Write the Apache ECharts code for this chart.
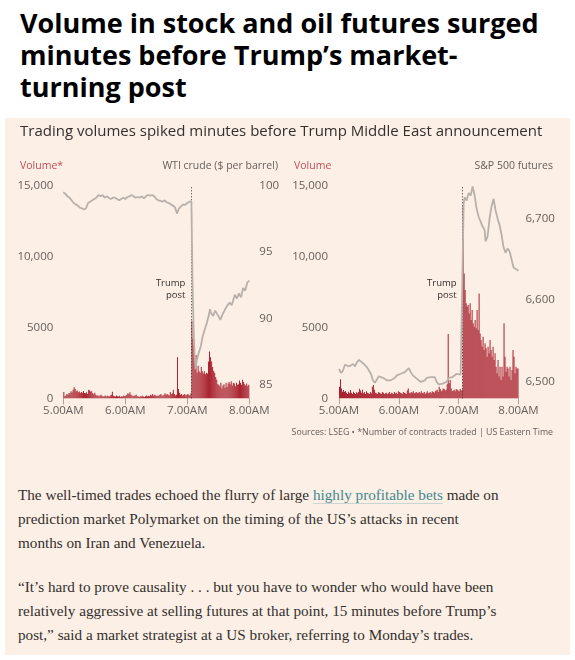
<!DOCTYPE html>
<html>
<head>
<meta charset="utf-8">
<script src="https://cdn.jsdelivr.net/npm/echarts@6/dist/echarts.min.js"></script>
<style>
  body { margin: 0; width: 575px; height: 660px; background: #fff; position: relative; overflow: hidden; }
  #headline { position: absolute; left: 20px; top: 7px; width: 545px; font-family: "Open Sans", sans-serif; font-weight: 700;
    font-size: 27px; line-height: 32px; color: #000; letter-spacing: 0; }
  #panel { position: absolute; left: 5px; top: 118px; width: 565px; height: 537px; background: #fcefe5; }
  #chart { position: absolute; left: 0; top: 118px; width: 575px; height: 340px; }
  #story { position: absolute; left: 18px; top: 483px; width: 484px; font-family: "Liberation Serif", serif;
    font-size: 15.2px; line-height: 24px; color: #33302e; }
  #story p { margin: 0 0 20px 0; }
  #story a { color: #3f8a90; text-decoration: underline; text-decoration-color: #c9d6d1; text-underline-offset: 3px; }
</style>
</head>
<body>
<div id="headline">Volume in stock and oil futures surged minutes before Trump’s market-<br>turning post</div>
<div id="panel"></div>
<div id="chart"></div>
<div id="story">
  <p>The well-timed trades echoed the flurry of large <a>highly profitable bets</a> made on prediction market Polymarket on the timing of the US’s attacks in recent months on Iran and Venezuela.</p>
  <p>“It’s hard to prove causality . . . but you have to wonder who would have been relatively aggressive at selling futures at that point, 15 minutes before Trump’s post,” said a market strategist at a US broker, referring to Monday’s trades.</p>
</div>
<script>
// minutes after 5.00AM, one bar per minute
var timeLabels = ['5.00AM', '6.00AM', '7.00AM', '8.00AM'];
var volTicks = [0, 5000, 10000, 15000];
var volTickLabels = ['0', '5000', '10,000', '15,000'];
var wtiTicks = [85, 90, 95, 100];
var spTicks = [6500, 6600, 6700];
var postMinute = 124;

// WTI crude futures, contracts per minute
var oilVolume = [
  450, 150, 200, 300, 250, 380, 350, 500, 420, 600,
  780, 650, 500, 550, 420, 480, 380, 450, 400, 520,
  380, 350, 420, 300, 600, 550, 480, 500, 350, 280,
  400, 250, 180, 220, 150, 200, 250, 180, 120, 150,
  200, 130, 180, 150, 120, 200, 250, 470, 180, 150,
  120, 200, 150, 130, 180, 100, 150, 120, 200, 150,
  180, 250, 350, 300, 420, 250, 200, 150, 180, 200,
  250, 150, 120, 100, 150, 130, 180, 120, 100, 150,
  200, 120, 180, 150, 250, 200, 300, 180, 250, 200,
  150, 200, 180, 250, 300, 200, 180, 250, 350, 250,
  300, 250, 200, 450, 300, 350, 600, 300, 200, 250,
  2900, 650, 400, 250, 300, 200, 250, 300, 200, 250,
  300, 250, 200, 350,
  5450, 4200, 3700, 2700, 3050, 1800,
  2300, 1900, 1800, 2200, 1900, 1750, 1900, 1700, 1800, 1750,
  2600, 3300, 2900, 2600, 2200, 1950, 1800, 1500, 1300, 1000,
  950, 850, 1100, 700, 900, 1000, 750, 1100, 800, 1050,
  1150, 1000, 1200, 900, 1100, 1050, 850, 1100, 950, 1000,
  1250, 1100, 950, 1300, 1150, 1000, 900, 1050, 850, 950
];

// S&P 500 futures, contracts per minute
var spVolume = [
  820, 1340, 700, 470, 590, 470, 520, 400, 300, 470,
  350, 590, 400, 300, 470, 380, 300, 420, 350, 450,
  680, 550, 400, 600, 350, 450, 300, 500, 400, 350,
  300, 450, 350, 820, 940, 600, 400, 350, 300, 450,
  400, 350, 300, 450, 400, 300, 350, 400, 300, 350,
  450, 300, 400, 350, 300, 450, 350, 400, 300, 500,
  450, 400, 350, 300, 450, 400, 350, 300, 550, 700,
  400, 350, 450, 400, 500, 350, 400, 450, 350, 400,
  450, 350, 500, 400, 350, 450, 300, 400, 500, 350,
  400, 450, 350, 500, 450, 400, 500, 550, 600, 450,
  820, 650, 500, 550, 700, 650, 550, 600, 1000, 4540,
  1060, 1290, 700, 500, 550, 600, 500, 650, 600, 550,
  500, 650, 550, 600,
  13630, 8800, 7640, 6700, 6460, 6580, 5990, 6700, 5520, 6230,
  5290, 5050, 5520, 4940, 6230, 4820, 7400, 4580, 4110, 3640,
  4350, 3410, 3880, 3530, 2940, 3640, 3170, 4110, 3410, 2940,
  3640, 2700, 3170, 2230, 1760, 2700, 1530, 2230, 1290, 2230,
  1530, 5290, 2940, 1880, 2230, 2110, 1530, 2230, 1290, 2000,
  3410, 2940, 1760, 2230, 2110, 2110
];

// WTI crude ($ per barrel)
var wtiTimes = [0, 2, 4, 6, 8, 10, 12, 14, 16, 18, 20, 22, 24, 26, 28, 30, 32, 34, 36, 38,
  40, 42, 44, 46, 48, 50, 52, 54, 56, 58, 60, 62, 64, 66, 68, 70, 72, 74, 76, 78,
  80, 82, 84, 86, 88, 90, 92, 94, 96, 98, 100, 102, 104, 106, 108, 110, 112, 114, 116, 118,
  120, 122, 124, 125, 126, 127, 128, 129, 131, 133, 135, 137, 139, 141, 142, 143, 145, 147, 148, 150,
  152, 154, 156, 158, 161, 163, 166, 168, 170, 172, 174, 176, 178, 180];
var wtiPrices = [99.5, 99.4, 99.2, 99.1, 98.9, 98.7, 98.6, 98.5, 98.35, 98.3, 98.2, 98.3, 98.7, 98.8, 98.9, 99.0, 99.1, 99.3, 99.2, 99.3,
  99.1, 99.2, 99.1, 99.0, 99.1, 99.1, 99.0, 98.9, 99.0, 99.1, 99.0, 99.15, 99.2, 99.3, 99.2, 99.1, 99.15, 99.1, 99.2, 99.05,
  99.2, 99.3, 99.25, 99.3, 99.2, 99.0, 98.9, 98.85, 98.8, 98.9, 98.75, 98.7, 98.6, 98.5, 98.4, 97.9, 98.3, 98.45, 98.6, 98.55,
  98.7, 98.8, 98.8, 92.9, 89.5, 87.3, 86.2, 86.8, 87.4, 87.9, 88.7, 89.2, 89.7, 90.3, 90.7, 90.4, 90.2, 90.6, 90.5, 90.2,
  89.9, 90.3, 90.6, 90.9, 91.2, 91.0, 91.8, 91.5, 91.9, 91.6, 92.3, 92.1, 92.7, 92.85];

// S&P 500 futures
var spTimes = [0, 2, 4, 6, 8, 10, 12, 14, 16, 18, 20, 22, 24, 26, 28, 30, 32, 34, 36, 38,
  40, 42, 44, 46, 48, 50, 52, 54, 56, 58, 60, 62, 64, 66, 68, 70, 72, 74, 76, 78,
  80, 82, 84, 86, 88, 90, 92, 94, 96, 98, 100, 102, 104, 106, 108, 110, 112, 114, 116, 118,
  120, 122, 124, 125, 126, 128, 130, 132, 134, 136, 138, 140, 142, 144, 146, 147, 149, 151, 153, 155,
  157, 159, 161, 163, 165, 167, 169, 171, 173, 175, 177, 179, 180];
var spPrices = [6516, 6511, 6514, 6521, 6523, 6519, 6520, 6522, 6519, 6524, 6527, 6528, 6523, 6521, 6518, 6514, 6510, 6502, 6499, 6503,
  6507, 6509, 6505, 6503, 6502, 6504, 6502, 6503, 6505, 6508, 6507, 6510, 6509, 6512, 6514, 6517, 6512, 6508, 6506, 6504,
  6502, 6500, 6499, 6502, 6505, 6503, 6506, 6505, 6506, 6500, 6497, 6497, 6498, 6499, 6500, 6505, 6504, 6506, 6504, 6510,
  6512, 6509, 6511, 6718, 6726, 6722, 6731, 6728, 6739, 6728, 6712, 6702, 6696, 6690, 6686, 6672, 6678, 6700, 6715, 6724,
  6710, 6700, 6692, 6680, 6665, 6658, 6663, 6660, 6650, 6640, 6641, 6637, 6636];

var ink = '#33302e';
var grey = '#66605c';
var red = '#c4505b';
var barRed = '#a8222f';
var lineGrey = '#b8b1ab';
var fontFamily = '"Open Sans", sans-serif';

function bars(arr) {
  return arr.map(function (v, i) { return [i + 0.5, v]; });
}
function pairs(xs, ys) {
  return xs.map(function (x, i) { return [x, ys[i]]; });
}

var chart = echarts.init(document.getElementById('chart'));

function xAxisFor(idx) {
  return {
    gridIndex: idx, type: 'value', min: 0, max: 180, interval: 60,
    axisLine: { show: false },
    axisTick: { show: true, length: 6, lineStyle: { color: '#aaa29b' } },
    splitLine: { show: false },
    axisLabel: {
      color: grey, fontSize: 11.5, fontFamily: fontFamily, margin: 6,
      formatter: function (v) { return timeLabels[v / 60]; }
    }
  };
}
function volAxisFor(idx, margin) {
  return {
    gridIndex: idx, type: 'value', position: 'left', min: 0, max: 15000, interval: 5000,
    axisLine: { show: false }, axisTick: { show: false }, splitLine: { show: false },
    axisLabel: {
      color: grey, fontSize: 11.5, fontFamily: fontFamily, margin: margin,
      formatter: function (v) { return volTickLabels[volTicks.indexOf(v)]; }
    }
  };
}
function priceAxisFor(idx, min, max, ticks, margin) {
  return {
    gridIndex: idx, type: 'value', position: 'right', min: min, max: max,
    axisLine: { show: false }, axisTick: { show: false }, splitLine: { show: false },
    axisLabel: { color: grey, fontSize: 11.5, fontFamily: fontFamily, margin: margin, customValues: ticks }
  };
}
function postLine() {
  return {
    silent: true, symbol: 'none', label: { show: false },
    lineStyle: { color: ink, type: [1, 2], width: 1 },
    data: [{ xAxis: postMinute }]
  };
}

var titleStyle = function (color, size) {
  return { color: color, fontSize: size, fontWeight: 'normal', fontFamily: fontFamily };
};

chart.setOption({
  animation: false,
  title: [
    { text: 'Trading volumes spiked minutes before Trump Middle East announcement', left: 20, top: 6, padding: 0,
      textStyle: titleStyle(ink, 15) },
    { text: 'Volume*', left: 20, top: 43, padding: 0, textStyle: titleStyle(red, 10.5) },
    { text: 'WTI crude ($ per barrel)', right: 297, top: 43, padding: 0, textStyle: titleStyle(grey, 10.5) },
    { text: 'Volume', left: 294, top: 43, padding: 0, textStyle: titleStyle(red, 10.5) },
    { text: 'S&P 500 futures', right: 22, top: 43, padding: 0, textStyle: titleStyle(grey, 10.5) },
    { text: 'Sources: LSEG • *Number of contracts traded | US Eastern Time', right: 22, top: 310, padding: 0,
      textStyle: titleStyle(grey, 8.8) }
  ],
  grid: [
    { left: 63.3, top: 67.7, width: 186, height: 212.6 },
    { left: 339, top: 67.7, width: 179.5, height: 212.6 }
  ],
  xAxis: [xAxisFor(0), xAxisFor(1)],
  yAxis: [
    volAxisFor(0, 10),
    priceAxisFor(0, 84, 100, wtiTicks, 10),
    volAxisFor(1, 11),
    priceAxisFor(1, 6480, 6740, spTicks, 7)
  ],
  series: [
    { name: 'Oil volume', type: 'bar', xAxisIndex: 0, yAxisIndex: 0, barWidth: 1,
      itemStyle: { color: barRed }, data: bars(oilVolume), markLine: postLine() },
    { name: 'WTI crude', type: 'line', xAxisIndex: 0, yAxisIndex: 1, symbol: 'none', z: 5,
      lineStyle: { color: lineGrey, width: 1.8 }, data: pairs(wtiTimes, wtiPrices) },
    { name: 'S&P volume', type: 'bar', xAxisIndex: 1, yAxisIndex: 2, barWidth: 1,
      itemStyle: { color: barRed }, data: bars(spVolume), markLine: postLine() },
    { name: 'S&P 500 futures', type: 'line', xAxisIndex: 1, yAxisIndex: 3, symbol: 'none', z: 5,
      lineStyle: { color: lineGrey, width: 1.8 }, data: pairs(spTimes, spPrices) }
  ]
});

// "Trump post" notes beside the dotted lines
var notes = [0, 1].map(function (g) {
  var p = chart.convertToPixel({ xAxisIndex: g, yAxisIndex: g * 2 }, [postMinute, 7700]);
  return {
    type: 'text', x: p[0] - 6, y: p[1],
    style: { text: 'Trump\npost', align: 'right', verticalAlign: 'middle', lineHeight: 12.5,
      fill: ink, fontSize: 9.5, fontFamily: fontFamily }
  };
});
chart.setOption({ graphic: notes });
</script>
</body>
</html>
